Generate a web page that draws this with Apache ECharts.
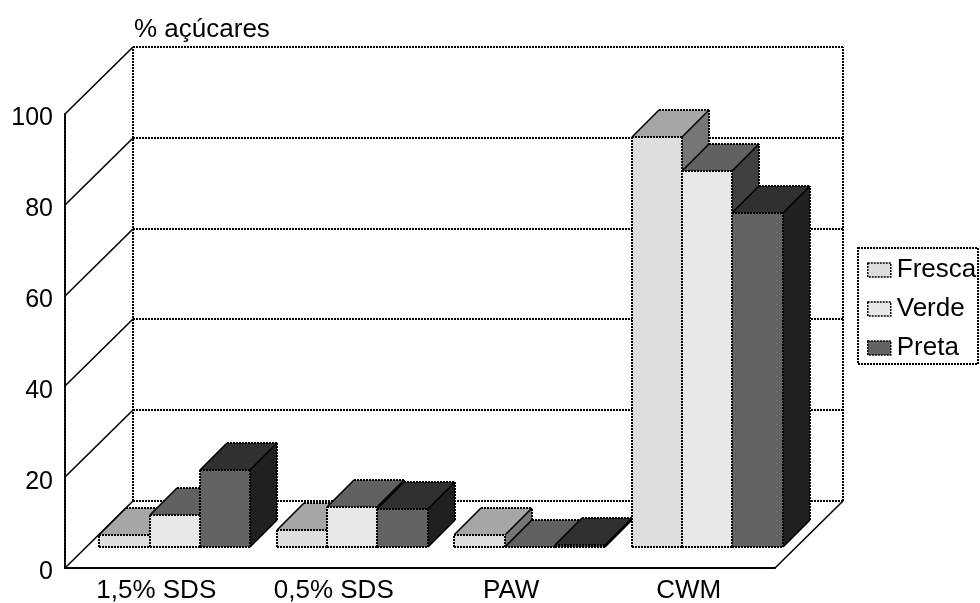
<!DOCTYPE html>
<html>
<head>
<meta charset="utf-8">
<style>html,body{margin:0;padding:0;background:#fff}#c{width:980px;height:603px}</style>
<script src="https://cdn.jsdelivr.net/npm/echarts@6/dist/echarts.min.js"></script>
</head>
<body>
<div id="c"></div>
<script>
const categories = ['1,5% SDS', '0,5% SDS', 'PAW', 'CWM'];
const fresca = [2.6, 3.7, 2.6, 90.4];
const verde = [7, 8.8, 0.05, 82.9];
const preta = [17, 8.4, 0.4, 73.6];
const yTicks = [0, 20, 40, 60, 80, 100];
const FONT = '"Liberation Sans", Arial, sans-serif';
const DASH = [2, 1];

const faces = {
  Fresca: {front: '#dedede', top: '#a6a6a6', side: '#767676'},
  Verde: {front: '#e8e8e8', top: '#616161', side: '#404040'},
  Preta: {front: '#636363', top: '#303030', side: '#202020'}
};

const chart = echarts.init(document.getElementById('c'));
const px = v => Math.round(v);

function seg(x1, y1, x2, y2, dashed, z2) {
  return {
    type: 'line', z2: z2,
    shape: {x1, y1, x2, y2},
    style: {stroke: '#000', lineWidth: dashed ? 2 : 1.6, lineDash: dashed ? DASH : null, fill: null}
  };
}
function poly(points, fill, z2) {
  return {type: 'polygon', z2: z2, shape: {points}, style: {fill: fill, stroke: null}};
}

function barRender(name, slot) {
  const c = faces[name];
  return function (params, api) {
    const i = api.value(0), v = api.value(1);
    const slotW = api.size([1, 0])[0] * 0.2845;
    const cx = api.coord([i, 0])[0] + 21;
    const y0 = px(api.coord([i, 0])[1] - 21);
    const yT = px(api.coord([i, v])[1] - 21);
    const l = px(cx + (slot - 1.5) * slotW);
    const r = px(cx + (slot - 0.5) * slotW);
    const d = 27, z = 100 + i * 10 + slot;
    return {
      type: 'group',
      children: [
        poly([[l, y0], [r, y0], [r, yT], [l, yT]], c.front, z),
        poly([[l, yT], [r, yT], [r + d, yT - d], [l + d, yT - d]], c.top, z),
        poly([[r, y0], [r + d, y0 - d], [r + d, yT - d], [r, yT]], c.side, z),
        seg(l, y0, r, y0, true, z),
        seg(l, yT, r, yT, true, z),
        seg(l, y0, l, yT, true, z),
        seg(r, y0, r, yT, true, z),
        seg(l + d, yT - d, r + d, yT - d, true, z),
        seg(r + d, y0 - d, r + d, yT - d, true, z),
        seg(l, yT, l + d, yT - d, false, z),
        seg(r, yT, r + d, yT - d, false, z),
        seg(r, y0, r + d, y0 - d, false, z)
      ]
    };
  };
}

function wallRender(params, api) {
  const cs = params.coordSys;
  const v = api.value(1);
  const y = px(api.coord([0, v])[1]);
  const xL = px(cs.x), xR = px(cs.x + cs.width);
  const dx = 68, dy = 67;
  const kids = [
    seg(xL, y, xL + dx, y - dy, false, 1),
    seg(xL + dx, y - dy, xR + dx, y - dy, true, 1)
  ];
  if (v === 0) {
    const top = px(cs.y);
    kids.push(seg(xR, y, xR + dx, y - dy, false, 1));
    kids.push(seg(xL + dx, y - dy, xL + dx, top - dy, true, 1));
    kids.push(seg(xR + dx, y - dy, xR + dx, top - dy, true, 1));
  }
  return {type: 'group', children: kids};
}

const toData = arr => arr.map((v, i) => [i, v]);

chart.setOption({
  animation: false,
  backgroundColor: '#fff',
  title: {
    text: '% açúcares', left: 129, top: 12,
    textStyle: {fontFamily: FONT, fontSize: 26, fontWeight: 'normal', color: '#000'}
  },
  legend: {
    data: ['Fresca', 'Verde', 'Preta'],
    orient: 'vertical', left: 867, top: 257, padding: 0,
    icon: 'rect', itemWidth: 23, itemHeight: 14, itemGap: 13,
    selectedMode: false,
    textStyle: {fontFamily: FONT, fontSize: 26, color: '#000', padding: [0, 0, 0, 1]},
    itemStyle: {borderColor: '#000', borderWidth: 1.5, borderType: DASH}
  },
  grid: {left: 65, top: 114, width: 710, height: 454, containLabel: false, outerBoundsMode: 'none'},
  xAxis: {
    type: 'category', data: categories,
    axisLine: {show: true, lineStyle: {color: '#000', width: 2, type: DASH}},
    axisTick: {show: false},
    splitLine: {show: false},
    axisLabel: {color: '#000', fontFamily: FONT, fontSize: 26, margin: 10, interval: 0, padding: [0, 0, 0, 5]}
  },
  yAxis: {
    type: 'value', min: 0, max: 100, interval: 20,
    axisLine: {show: true, lineStyle: {color: '#000', width: 2, type: DASH}},
    axisTick: {show: false},
    splitLine: {show: false},
    axisLabel: {color: '#000', fontFamily: FONT, fontSize: 25, margin: 12, verticalAlign: 'top', padding: [-8, 0, 0, 0]}
  },
  series: [
    {type: 'custom', name: 'walls', silent: true, z: 1, renderItem: wallRender,
      encode: {x: 0, y: 1}, data: yTicks.map(t => [0, t])},
    {type: 'custom', name: 'Fresca', z: 2, renderItem: barRender('Fresca', 0),
      itemStyle: {color: faces.Fresca.front}, encode: {x: 0, y: 1}, data: toData(fresca)},
    {type: 'custom', name: 'Verde', z: 2, renderItem: barRender('Verde', 1),
      itemStyle: {color: faces.Verde.front}, encode: {x: 0, y: 1}, data: toData(verde)},
    {type: 'custom', name: 'Preta', z: 2, renderItem: barRender('Preta', 2),
      itemStyle: {color: faces.Preta.front}, encode: {x: 0, y: 1}, data: toData(preta)}
  ],
  graphic: [{
    type: 'rect', silent: true, z: 0,
    shape: {x: 858, y: 248, width: 120, height: 116},
    style: {fill: '#fff', stroke: '#000', lineWidth: 2, lineDash: DASH}
  }]
});
</script>
</body>
</html>
